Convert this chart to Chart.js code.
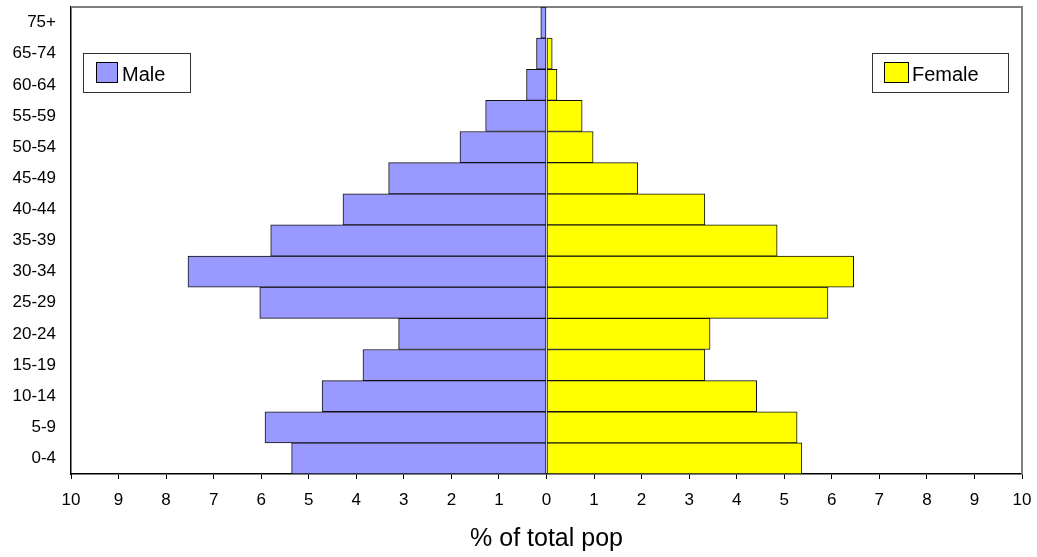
<!DOCTYPE html>
<html>
<head>
<meta charset="utf-8">
<script src="https://cdn.jsdelivr.net/npm/chart.js@4/dist/chart.umd.min.js"></script>
<style>
  html, body { margin: 0; padding: 0; background: #fff; }
  #wrap { width: 1037px; height: 557px; }
</style>
</head>
<body>
<div id="wrap"><canvas id="c" width="1037" height="557"></canvas></div>
<script>
// Age bands, youngest first
const ageGroups = ['0-4', '5-9', '10-14', '15-19', '20-24', '25-29', '30-34', '35-39',
                   '40-44', '45-49', '50-54', '55-59', '60-64', '65-74', '75+'];
// Share of total population (%)
const malePct   = [5.36, 5.92, 4.72, 3.86, 3.11, 6.03, 7.54, 5.80, 4.28, 3.32, 1.82, 1.28, 0.42, 0.21, 0.12];
const femalePct = [5.37, 5.27, 4.42, 3.33, 3.44, 5.92, 6.46, 4.85, 3.33, 1.92, 0.98, 0.75, 0.22, 0.12, 0.00];
const axisTicks = [-10, -9, -8, -7, -6, -5, -4, -3, -2, -1, 0, 1, 2, 3, 4, 5, 6, 7, 8, 9, 10];

const FONT = '"Liberation Sans", Arial, sans-serif';
const MALE_COLOR = '#9999FF';
const FEMALE_COLOR = '#FFFF00';

// Frame around the plot plus the two in-plot legend boxes
const framePlugin = {
  id: 'frameAndLegend',
  beforeDatasetsDraw(chart) {
    const { ctx, chartArea: a } = chart;
    ctx.save();
    ctx.strokeStyle = '#808080';
    ctx.lineWidth = 2;
    ctx.beginPath();
    ctx.moveTo(a.left, a.top);
    ctx.lineTo(a.right, a.top);
    ctx.lineTo(a.right, a.bottom);
    ctx.stroke();
    ctx.restore();
  },
  afterDraw(chart) {
    const { ctx } = chart;
    const items = [
      { label: chart.data.datasets[0].label, color: MALE_COLOR,   box: [83.5, 53.5, 107, 39],  sw: [96.5, 62.5, 21, 20],  tx: 122 },
      { label: chart.data.datasets[1].label, color: FEMALE_COLOR, box: [872.5, 53.5, 136, 39], sw: [884.5, 62.5, 24, 20], tx: 912 }
    ];
    ctx.save();
    items.forEach(it => {
      ctx.fillStyle = '#fff';
      ctx.strokeStyle = '#333';
      ctx.lineWidth = 1;
      ctx.fillRect(...it.box);
      ctx.strokeRect(...it.box);
      ctx.fillStyle = it.color;
      ctx.fillRect(...it.sw);
      ctx.strokeStyle = '#000';
      ctx.strokeRect(...it.sw);
      ctx.fillStyle = '#000';
      ctx.font = '20px ' + FONT;
      ctx.textBaseline = 'middle';
      ctx.textAlign = 'left';
      ctx.fillText(it.label, it.tx, it.box[1] + it.box[3] / 2 + 2);
    });
    ctx.restore();
  }
};

new Chart(document.getElementById('c'), {
  type: 'bar',
  data: {
    labels: ageGroups,
    datasets: [
      {
        label: 'Male',
        data: malePct.map(v => -v),
        backgroundColor: MALE_COLOR,
        borderColor: '#111',
        borderWidth: 1,
        borderSkipped: false,
        categoryPercentage: 1,
        barPercentage: 1
      },
      {
        label: 'Female',
        data: femalePct,
        backgroundColor: FEMALE_COLOR,
        borderColor: '#111',
        borderWidth: 1,
        borderSkipped: false,
        categoryPercentage: 1,
        barPercentage: 1
      }
    ]
  },
  options: {
    indexAxis: 'y',
    responsive: false,
    animation: false,
    layout: { padding: { top: 7, right: 15, left: 0, bottom: 0 } },
    plugins: {
      legend: { display: false },
      tooltip: { enabled: false }
    },
    scales: {
      x: {
        type: 'linear',
        stacked: true,
        min: -10,
        max: 10,
        afterBuildTicks(scale) {
          scale.ticks = axisTicks.map(v => ({ value: v }));
        },
        afterFit(scale) {
          scale.height = 83;
          scale.paddingLeft = 0;
          scale.paddingRight = 0;
        },
        grid: {
          display: true,
          drawOnChartArea: false,
          drawTicks: true,
          tickLength: 5,
          tickColor: '#000',
          tickWidth: 1
        },
        border: { display: true, color: '#000', width: 1.5 },
        ticks: {
          autoSkip: false,
          maxRotation: 0,
          padding: 11,
          color: '#000',
          font: { family: FONT, size: 17 },
          callback: v => String(Math.abs(v))
        },
        title: {
          display: true,
          text: '% of total pop',
          color: '#000',
          font: { family: FONT, size: 25 },
          padding: { top: 0, bottom: 3 }
        }
      },
      y: {
        type: 'category',
        stacked: true,
        reverse: true,
        afterFit(scale) {
          scale.width = 71;
          scale.paddingTop = 0;
          scale.paddingBottom = 0;
        },
        grid: { display: false, drawTicks: false },
        border: { display: true, color: '#000', width: 1.5 },
        ticks: {
          padding: 15,
          color: '#000',
          font: { family: FONT, size: 17 }
        }
      }
    }
  },
  plugins: [framePlugin]
});
</script>
</body>
</html>
